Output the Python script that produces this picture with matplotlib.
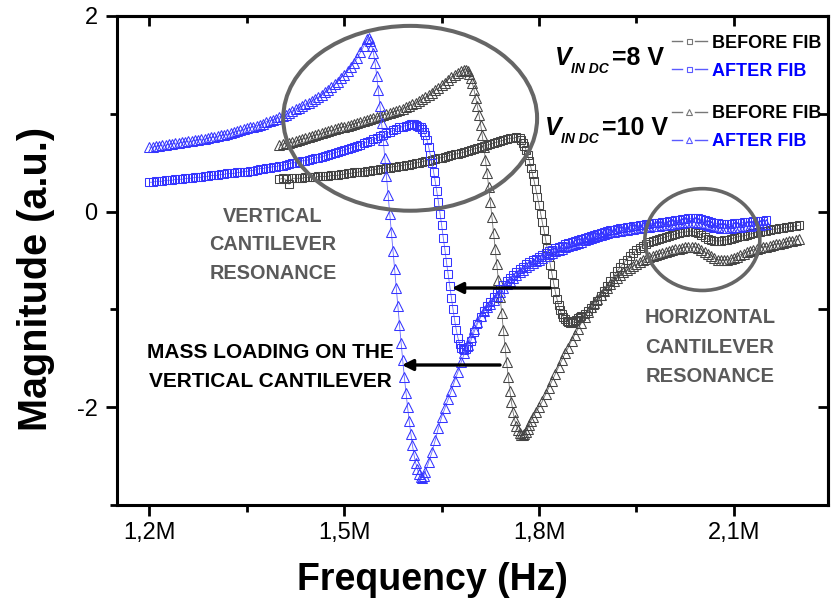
import numpy as np
import matplotlib
matplotlib.use("Agg")
import matplotlib.pyplot as plt
from matplotlib.patches import Ellipse
from matplotlib.lines import Line2D
from matplotlib.ticker import FixedLocator, NullFormatter

plt.rcParams["font.family"] = ["Liberation Sans", "DejaVu Sans"]

# Frequency sweeps (MHz) stored as (start, step, magnitudes) segments.
before_8v = [
    (1.400, 0.005, [0.33, 0.34, 0.33, 0.28, 0.34, 0.34, 0.34, 0.34, 0.35, 0.35,
                    0.35, 0.35, 0.36, 0.36, 0.36, 0.36, 0.37, 0.37, 0.37, 0.38,
                    0.38, 0.39, 0.39, 0.40, 0.40, 0.41, 0.41, 0.42, 0.42, 0.43,
                    0.43, 0.44, 0.44, 0.45, 0.45, 0.46, 0.46, 0.47, 0.47, 0.48,
                    0.48, 0.49, 0.50, 0.50, 0.51, 0.52, 0.52, 0.53, 0.54, 0.55,
                    0.55, 0.56, 0.57, 0.58, 0.59, 0.59, 0.60, 0.61, 0.62, 0.63,
                    0.64, 0.65, 0.66, 0.67, 0.68, 0.69, 0.70, 0.71, 0.72, 0.73,
                    0.74, 0.75, 0.75, 0.76, 0.75]),
    (1.7725, 0.0025, [0.73, 0.70, 0.67, 0.63, 0.58, 0.52, 0.45, 0.38, 0.31, 0.23,
                      0.15, 0.07, -0.02, -0.11, -0.19, -0.28, -0.37, -0.46, -0.55, -0.64,
                      -0.73, -0.82, -0.89, -0.96, -1.01, -1.05, -1.08, -1.10, -1.12, -1.13,
                      -1.14, -1.14, -1.13, -1.12, -1.11, -1.09, -1.08]),
    (1.865, 0.005, [-1.07, -1.05, -1.02, -0.99, -0.95, -0.91, -0.86, -0.81, -0.76, -0.71,
                    -0.66, -0.61, -0.57, -0.53, -0.49, -0.45, -0.42, -0.39, -0.37, -0.35,
                    -0.33, -0.31, -0.30, -0.29, -0.28, -0.27, -0.26, -0.25, -0.24, -0.23,
                    -0.22, -0.21, -0.21, -0.20, -0.20, -0.21, -0.22, -0.24, -0.26, -0.28,
                    -0.29, -0.30, -0.30, -0.30, -0.29, -0.29, -0.28, -0.27, -0.26, -0.25,
                    -0.25, -0.24, -0.23, -0.22, -0.21, -0.21, -0.20, -0.20, -0.19, -0.18,
                    -0.18, -0.17, -0.17, -0.16, -0.16, -0.15, -0.15, -0.14]),
]

after_8v = [
    (1.200, 0.005, [0.30, 0.30, 0.31, 0.31, 0.31, 0.32, 0.32, 0.32, 0.33, 0.33,
                    0.33, 0.34, 0.34, 0.34, 0.35, 0.35, 0.35, 0.36, 0.36, 0.37,
                    0.37, 0.37, 0.38, 0.38, 0.39, 0.39, 0.39, 0.40, 0.40, 0.41,
                    0.41, 0.42, 0.42, 0.43, 0.44, 0.44, 0.45, 0.45, 0.46, 0.46,
                    0.47, 0.47, 0.48, 0.49, 0.50, 0.50, 0.51, 0.52, 0.52, 0.53,
                    0.54, 0.55, 0.55, 0.56, 0.57, 0.58, 0.59, 0.60, 0.61, 0.62,
                    0.63, 0.64, 0.65, 0.66, 0.67, 0.68, 0.70, 0.71, 0.72, 0.74,
                    0.75, 0.77, 0.78, 0.80, 0.81, 0.83, 0.84, 0.86, 0.87, 0.88,
                    0.89]),
    (1.6025, 0.0025, [0.90, 0.90, 0.90, 0.89, 0.88, 0.87, 0.86, 0.84, 0.81, 0.78,
                      0.73, 0.66, 0.58, 0.50, 0.41, 0.31, 0.21, 0.10, -0.02, -0.14,
                      -0.27, -0.39, -0.52, -0.64, -0.76, -0.88, -1.00, -1.11, -1.21, -1.29,
                      -1.35, -1.39, -1.41, -1.42, -1.41, -1.38]),
    (1.695, 0.005, [-1.32, -1.23, -1.15, -1.08, -1.02, -0.97, -0.92, -0.87, -0.83, -0.79,
                    -0.75, -0.71, -0.68, -0.65, -0.62, -0.59, -0.57, -0.54, -0.52, -0.50,
                    -0.48, -0.46, -0.44, -0.42, -0.40, -0.39, -0.37, -0.36, -0.35, -0.33,
                    -0.32, -0.31, -0.30, -0.29, -0.28, -0.27, -0.26, -0.25, -0.24, -0.23,
                    -0.22, -0.21, -0.20, -0.19, -0.19, -0.18, -0.17, -0.17, -0.16, -0.16,
                    -0.15, -0.15, -0.14, -0.14, -0.13, -0.13, -0.12, -0.12, -0.12, -0.11,
                    -0.11, -0.10, -0.10, -0.09, -0.09, -0.08, -0.08, -0.07, -0.07, -0.07,
                    -0.07, -0.08, -0.09, -0.10, -0.11, -0.12, -0.12, -0.13, -0.13, -0.13,
                    -0.13, -0.12, -0.12, -0.12, -0.11, -0.11, -0.11, -0.10, -0.10, -0.10,
                    -0.10, -0.09]),
]

before_10v = [
    (1.400, 0.005, [0.68, 0.69, 0.70, 0.70, 0.71, 0.72, 0.73, 0.74, 0.75, 0.76,
                    0.77, 0.78, 0.79, 0.80, 0.81, 0.82, 0.83, 0.84, 0.85, 0.86,
                    0.87, 0.88, 0.89, 0.90, 0.91, 0.92, 0.93, 0.94, 0.95, 0.96,
                    0.97, 0.98, 0.99, 1.00, 1.01, 1.02, 1.03, 1.04, 1.05, 1.07,
                    1.08, 1.10, 1.11, 1.13, 1.15, 1.17, 1.19, 1.21, 1.24, 1.26,
                    1.29, 1.32, 1.35, 1.38, 1.40, 1.42, 1.44, 1.45]),
    (1.6875, 0.0025, [1.45, 1.44, 1.41, 1.37, 1.31, 1.24, 1.16, 1.08, 0.99, 0.89,
                      0.78, 0.66, 0.53, 0.39, 0.25, 0.10, -0.06, -0.22, -0.38, -0.54,
                      -0.70, -0.87, -1.04, -1.21, -1.38, -1.54, -1.69, -1.83, -1.95, -2.05,
                      -2.13, -2.19, -2.23, -2.26, -2.28, -2.28, -2.27, -2.25, -2.22, -2.18,
                      -2.14]),
    (1.790, 0.005, [-2.10, -2.05, -2.00, -1.94, -1.87, -1.80, -1.73, -1.66, -1.59, -1.52,
                    -1.45, -1.39, -1.32, -1.26, -1.20, -1.14, -1.08, -1.03, -0.98, -0.93,
                    -0.89, -0.85, -0.81, -0.78, -0.74, -0.71, -0.68, -0.65, -0.62, -0.60,
                    -0.58, -0.56, -0.54, -0.52, -0.50, -0.48, -0.46, -0.45, -0.44, -0.43,
                    -0.42, -0.41, -0.40, -0.39, -0.38, -0.38, -0.37, -0.36, -0.36, -0.36,
                    -0.36, -0.37, -0.39, -0.41, -0.43, -0.45, -0.47, -0.49, -0.50, -0.50,
                    -0.49, -0.48, -0.47, -0.46, -0.44, -0.43, -0.41, -0.40, -0.39, -0.38,
                    -0.37, -0.36, -0.36, -0.35, -0.34, -0.33, -0.33, -0.32, -0.31, -0.30,
                    -0.30, -0.29, -0.28]),
]

after_10v = [
    (1.200, 0.005, [0.66, 0.66, 0.67, 0.67, 0.68, 0.68, 0.69, 0.69, 0.70, 0.70,
                    0.71, 0.71, 0.72, 0.72, 0.73, 0.73, 0.74, 0.74, 0.75, 0.76,
                    0.76, 0.77, 0.78, 0.78, 0.79, 0.80, 0.81, 0.82, 0.83, 0.84,
                    0.85, 0.86, 0.87, 0.88, 0.89, 0.90, 0.92, 0.93, 0.94, 0.95,
                    0.97, 0.98, 0.99, 1.01, 1.03, 1.05, 1.06, 1.08, 1.10, 1.11,
                    1.13, 1.15, 1.17, 1.19, 1.22, 1.24, 1.27, 1.30, 1.33, 1.37,
                    1.40, 1.44, 1.48, 1.52, 1.57, 1.63, 1.69]),
    (1.535, 0.0025, [1.76, 1.77, 1.74, 1.69, 1.62, 1.52, 1.39, 1.24, 1.08, 0.91,
                     0.73, 0.55, 0.36, 0.17, -0.02, -0.21, -0.40, -0.59, -0.78, -0.97,
                     -1.16, -1.34, -1.52, -1.69, -1.85, -2.00, -2.14, -2.27, -2.39, -2.49,
                     -2.57, -2.63, -2.68, -2.71, -2.72, -2.70, -2.66]),
    (1.630, 0.005, [-2.56, -2.46, -2.34, -2.21, -2.10, -2.01, -1.92, -1.83, -1.73, -1.64,
                    -1.54, -1.45, -1.36, -1.28, -1.20, -1.13, -1.07, -1.02, -0.98, -0.94,
                    -0.90, -0.86, -0.82, -0.78, -0.74, -0.71, -0.68, -0.65, -0.62, -0.60,
                    -0.57, -0.55, -0.53, -0.51, -0.49, -0.47, -0.45, -0.43, -0.42, -0.40,
                    -0.39, -0.38, -0.36, -0.35, -0.34, -0.33, -0.32, -0.31, -0.29, -0.28,
                    -0.27, -0.26, -0.25, -0.24, -0.23, -0.22, -0.21, -0.21, -0.20, -0.20,
                    -0.19, -0.19, -0.18, -0.18, -0.17, -0.17, -0.16, -0.16, -0.16, -0.15,
                    -0.15, -0.15, -0.14, -0.14, -0.14, -0.13, -0.13, -0.12, -0.12, -0.11,
                    -0.11, -0.11, -0.11, -0.12, -0.12, -0.13, -0.14, -0.15, -0.16, -0.16,
                    -0.17, -0.17, -0.17, -0.17, -0.16, -0.16, -0.16, -0.15, -0.15, -0.15,
                    -0.14, -0.14, -0.14, -0.13, -0.13]),
]

xtick_values = [1.2, 1.5, 1.8, 2.1]
xtick_labels = ["1,2M", "1,5M", "1,8M", "2,1M"]
xtick_minor = [1.35, 1.65, 1.95]
ytick_values = [-2, 0, 2]
ytick_labels = ["-2", "0", "2"]
ytick_minor = [-3, -1, 1]


def sweep(segments):
    freq, mag = [], []
    for start, step, values in segments:
        for i, v in enumerate(values):
            freq.append(start + i * step)
            mag.append(v)
    return np.array(freq), np.array(mag)


W, H = 832, 603
fig = plt.figure(figsize=(W / 100, H / 100), dpi=100)


def fx(px):
    return px / W


def fy(py):
    return 1 - py / H


ax = fig.add_axes([fx(117), fy(505), (828 - 117) / W, (505 - 16) / H])
ax.set_xlim(1.15, 2.245)
ax.set_ylim(-3, 2)

GRAY_EDGE, GRAY_LINE = "#444444", "#707070"
BLUE_EDGE, BLUE_LINE = "#3535ff", "#6a6aff"

styles = [
    (before_8v, "s", 5.6, GRAY_EDGE, GRAY_LINE),
    (before_10v, "^", 6.6, GRAY_EDGE, GRAY_LINE),
    (after_8v, "s", 5.6, BLUE_EDGE, BLUE_LINE),
    (after_10v, "^", 6.6, BLUE_EDGE, BLUE_LINE),
]
for segs, mk, ms, edge, line in styles:
    f, m = sweep(segs)
    ax.plot(f, m, color=line, lw=0.6, marker=mk, ms=ms, mfc="none",
            mec=edge, mew=0.75, zorder=3)

# highlighted resonance regions
ax.add_patch(Ellipse((1.6015, 0.954), 0.391, 1.89, fill=False,
                     ec="#666666", lw=2.9, zorder=5))
ax.add_patch(Ellipse((2.0515, -0.286), 0.177, 1.041, fill=False,
                     ec="#666666", lw=2.6, zorder=5))

# axes frame and ticks
for sp in ax.spines.values():
    sp.set_linewidth(2.2)
ax.xaxis.set_major_locator(FixedLocator(xtick_values))
ax.set_xticklabels(xtick_labels)
ax.xaxis.set_minor_locator(FixedLocator(xtick_minor))
ax.yaxis.set_major_locator(FixedLocator(ytick_values))
ax.set_yticklabels(ytick_labels)
ax.yaxis.set_minor_locator(FixedLocator(ytick_minor))
ax.tick_params(axis="both", which="major", direction="out", length=8, width=2,
               labelsize=17, top=False, right=False)
ax.tick_params(axis="both", which="minor", direction="out", length=5, width=2,
               top=False, right=False)
ax.tick_params(axis="x", which="major", pad=4)
ax.tick_params(axis="y", which="major", pad=6)

top = ax.secondary_xaxis("top")
top.xaxis.set_major_locator(FixedLocator(xtick_values))
top.xaxis.set_minor_locator(FixedLocator(xtick_minor))
top.xaxis.set_major_formatter(NullFormatter())
top.tick_params(which="major", direction="in", length=7, width=2)
top.tick_params(which="minor", direction="in", length=5, width=2)
top.spines["top"].set_linewidth(2.2)

right = ax.secondary_yaxis("right")
right.yaxis.set_major_locator(FixedLocator([-2, -1, 0, 1, 2]))
right.yaxis.set_major_formatter(NullFormatter())
right.yaxis.set_minor_locator(FixedLocator([]))
right.tick_params(which="major", direction="in", length=7, width=2)
right.spines["right"].set_linewidth(2.2)

# axis titles
fig.text(fx(432), fy(590), "Frequency (Hz)", ha="center", va="baseline",
         fontsize=27, fontweight="bold")
fig.text(fx(36), fy(279), "Magnitude (a.u.)", rotation=90, ha="center",
         va="center", fontsize=28.5, fontweight="bold")

# voltage groups and legend entries
for vx, vy, label in [(555, 65, "=8 V"), (545, 135, "=10 V")]:
    fig.text(fx(vx), fy(vy), "V", fontsize=18, fontweight="bold",
             fontstyle="italic", va="baseline")
    fig.text(fx(vx + 16), fy(vy + 8), "IN DC", fontsize=10, fontweight="bold",
             fontstyle="italic", va="baseline")
    fig.text(fx(vx + 57), fy(vy), label, fontsize=18, fontweight="bold",
             va="baseline")

entries = [
    (41, "s", 3.6, "#777777", "BEFORE FIB", "black"),
    (69, "s", 3.6, "#5a5aff", "AFTER FIB", "#0000ff"),
    (112, "^", 4.6, "#777777", "BEFORE FIB", "black"),
    (140, "^", 4.6, "#5a5aff", "AFTER FIB", "#0000ff"),
]
for y, mk, ms, lc, text, tc in entries:
    for x0, x1 in [(672, 682), (695, 707)]:
        fig.add_artist(Line2D([fx(x0), fx(x1)], [fy(y), fy(y)], color=lc,
                              lw=1.0, transform=fig.transFigure))
    fig.add_artist(Line2D([fx(688.5)], [fy(y)], marker=mk, ms=ms, mfc="white",
                          mec=lc, mew=0.8, ls="none", transform=fig.transFigure))
    fig.text(fx(712), fy(y + 6.5), text, fontsize=13, fontweight="bold",
             color=tc, va="baseline")

# region labels
NOTE_GRAY = "#5a5a5a"
for text, cy in [("VERTICAL", 222), ("CANTILEVER", 250), ("RESONANCE", 279)]:
    fig.text(fx(273), fy(cy), text, ha="center", va="baseline", fontsize=14.3,
             fontweight="bold", color=NOTE_GRAY)
for text, cy in [("HORIZONTAL", 323), ("CANTILEVER", 353), ("RESONANCE", 382)]:
    fig.text(fx(710), fy(cy), text, ha="center", va="baseline", fontsize=14.5,
             fontweight="bold", color=NOTE_GRAY)
for text, cy in [("MASS LOADING ON THE", 358), ("VERTICAL CANTILEVER", 387)]:
    fig.text(fx(270.5), fy(cy), text, ha="center", va="baseline", fontsize=15,
             fontweight="bold", color="black")

# mass-loading shift arrows
for tail, head, yy in [(550, 452, 288), (500, 402, 365)]:
    ax.annotate("", xy=(head, H - yy), xycoords="figure pixels",
                xytext=(tail, H - yy), textcoords="figure pixels",
                arrowprops=dict(arrowstyle="-|>", color="black", lw=2.4,
                                mutation_scale=16, shrinkA=0, shrinkB=0),
                zorder=6)

fig.savefig("out.png", dpi=100)
